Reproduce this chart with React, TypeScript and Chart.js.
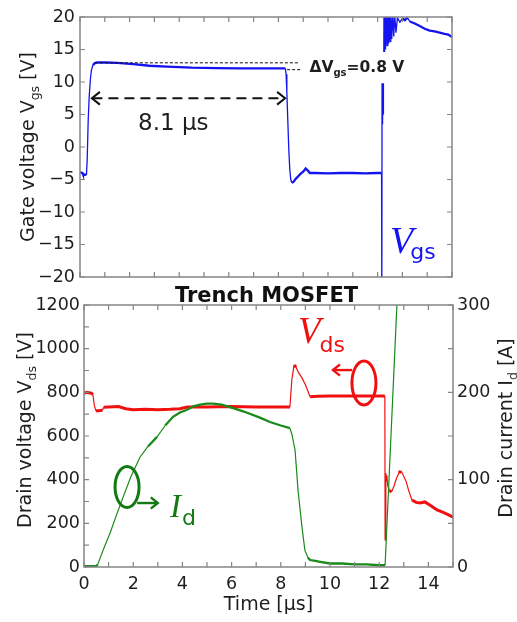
import React, { useEffect, useRef } from 'react';
import { Chart, registerables } from 'chart.js';
Chart.register(...registerables);

// ---------- data ----------
const timeMinorTicks = [0, 1, 2, 3, 4, 5, 6, 7, 8, 9, 10, 11, 12, 13, 14, 15];
const vgsMinorTicks = [-20, -15, -10, -5, 0, 5, 10, 15, 20];
const vdsMinorTicks = [0, 100, 200, 300, 400, 500, 600, 700, 800, 900, 1000, 1100, 1200];
const idMinorTicks = [0, 50, 100, 150, 200, 250, 300];

const vgsTime = [0, 0.1, 0.12, 0.26, 0.29, 0.33, 0.37, 0.42, 0.46, 0.52, 0.6, 0.7, 1.0, 1.5, 2.15, 2.8, 3.5, 4.5, 5.5, 6.5, 7.5, 8.28,
  8.31, 8.34, 8.38, 8.42, 8.46, 8.5, 8.54, 8.6, 8.7, 8.8, 8.9, 9.0, 9.1, 9.18, 9.27, 9.5, 10, 10.5, 11, 11.5, 12, 12.16,
  12.17, 12.18, 12.19, 12.2, 12.21, 12.22, 12.23, 12.24, 12.245, 12.25, 12.26, 12.27, 12.28, 12.29, 12.3, 12.31, 12.32, 12.33,
  12.35, 12.38, 12.41, 12.44, 12.47, 12.5, 12.53, 12.57, 12.61, 12.65, 12.69, 12.74, 12.8, 12.9, 13.0, 13.1, 13.2, 13.3,
  13.5, 13.7, 13.9, 14.1, 14.3, 14.5, 14.7, 14.85, 15];
const vgsValues = [-3.9, -4.0, -4.2, -4.3, -2, 4, 7.7, 10.5, 11.8, 12.6, 12.9, 13.0, 13.0, 12.95, 12.75, 12.5, 12.35, 12.2, 12.15, 12.1, 12.1, 12.1,
  11.2, 8.5, 4, -0.5, -3.5, -5.0, -5.5, -5.4, -4.9, -4.5, -4.1, -3.8, -3.3, -3.6, -4.0, -4.0, -4.05, -4.0, -4.0, -4.05, -4.0, -4.0,
  -24, 9.8, 3.5, 9.8, 4, 9.8, 5, 9.8, null, 14.6, 24, 14.6, 24, 14.8, 24, 15, 24, 15.2,
  23, 15.6, 22, 15.9, 21.5, 16.2, 21, 16.6, 20.6, 17, 20.3, 17.6, 19.9, 19.2, 19.8, 19.5, 19.9, 19.3,
  19.0, 18.6, 18.2, 17.9, 17.8, 17.6, 17.4, 17.3, 16.9];

const vdsTime = [0, 0.1, 0.2, 0.3, 0.36, 0.42, 0.48, 0.6, 0.75, 0.8, 1.0, 1.4, 1.7, 2.0, 2.5, 3.0, 3.5, 3.9, 4.2, 5.0, 6.0, 7.0, 8.0, 8.37,
  8.45, 8.54, 8.62, 8.72, 8.86, 9.0, 9.19, 9.5, 10, 10.5, 11, 11.5, 12, 12.23, 12.24, 12.27, 12.29, 12.31, 12.35, 12.42, 12.5,
  12.6, 12.7, 12.8, 12.88, 12.96, 13.1, 13.2, 13.33, 13.5, 13.66, 13.86, 14.1, 14.35, 14.6, 14.8, 15];
const vdsValues = [795, 800, 798, 796, 790, 740, 716, 716, 718, 732, 733, 735, 725, 720, 722, 720, 722, 725, 733, 733, 735, 733, 733, 733,
  860, 925, 915, 890, 866, 835, 780, 782, 783, 783, 783, 783, 783, 783, 124, 430, 395, 420, 370, 350, 344,
  370, 405, 430, 440, 425, 390, 350, 307, 296, 293, 298, 280, 261, 250, 240, 228];

const idTime = [0, 0.3, 0.5, 0.56, 0.8, 1.06, 1.3, 1.59, 1.9, 2.28, 2.6, 2.97, 3.3, 3.62, 3.9, 4.19, 4.45, 4.72, 5.0, 5.24, 5.6, 6.06,
  6.5, 7.15, 7.56, 8.0, 8.37, 8.45, 8.58, 8.7, 8.86, 8.98, 9.1, 9.19, 9.4, 9.6, 10, 10.5, 11, 11.5, 12, 12.24, 12.72, 12.9];
const idValues = [1, 1, 1, 3, 21, 39, 58, 80, 103, 126, 138, 149, 162, 172, 177, 180, 184, 186, 187, 187, 186, 182,
  178, 171, 166, 162, 159, 152, 134, 88, 46, 19, 11, 8, 7, 6, 4, 4, 3, 3, 2, 2, 300, 340];

// ---------- styles ----------
const SANS = '"DejaVu Sans", Verdana, sans-serif';
const SERIF = '"Liberation Serif", "DejaVu Serif", serif';
const FRAME = '#858585';
const TEXT = '#1e1e1e';
const BLUE = '#1414f0';
const RED = '#f01010';
const GREEN = '#1a8a1a';
const GREEN_DARK = '#127a12';
const W = 517;
const H = 622;

type Run = { text: string; font: string; color: string; dy?: number; gap?: number };

function drawRuns(ctx: CanvasRenderingContext2D, runs: Run[], x: number, y: number, align: 'left' | 'center', angle = 0) {
  ctx.save();
  ctx.translate(x, y);
  ctx.rotate(angle);
  ctx.textBaseline = 'alphabetic';
  ctx.textAlign = 'left';
  let total = 0;
  for (const r of runs) {
    ctx.font = r.font;
    total += ctx.measureText(r.text).width + (r.gap || 0);
  }
  let cx = align === 'center' ? -total / 2 : 0;
  for (const r of runs) {
    ctx.font = r.font;
    ctx.fillStyle = r.color;
    ctx.fillText(r.text, cx, r.dy || 0);
    cx += ctx.measureText(r.text).width + (r.gap || 0);
  }
  ctx.restore();
}

function chevron(ctx: CanvasRenderingContext2D, x: number, y: number, dir: number, size: number) {
  ctx.beginPath();
  ctx.moveTo(x - dir * size, y - size * 0.8);
  ctx.lineTo(x, y);
  ctx.lineTo(x - dir * size, y + size * 0.8);
  ctx.stroke();
}

function pts(xs: number[], ys: (number | null)[]) {
  return xs.map((x, i) => ({ x, y: ys[i] }));
}

function slopeWidth(thin: number, thick: number) {
  return (c: any) => {
    const dx = Math.abs(c.p1.x - c.p0.x);
    const dy = Math.abs(c.p1.y - c.p0.y);
    return dy > dx * 1.0 + 1 ? thin : thick;
  };
}

const frameTicks = {
  id: 'frameTicks',
  afterDatasetsDraw(chart: any, _a: any, opts: any) {
    const { ctx, chartArea: a, scales } = chart;
    ctx.save();
    ctx.strokeStyle = FRAME;
    ctx.lineWidth = 1.5;
    ctx.strokeRect(a.left, a.top, a.right - a.left, a.bottom - a.top);
    ctx.lineWidth = 1.2;
    const L = 5;
    ctx.beginPath();
    for (const v of opts.xTicks) {
      const p = scales.x.getPixelForValue(v);
      ctx.moveTo(p, a.bottom); ctx.lineTo(p, a.bottom - L);
      ctx.moveTo(p, a.top); ctx.lineTo(p, a.top + L);
    }
    for (const v of opts.leftTicks) {
      const p = scales.y.getPixelForValue(v);
      ctx.moveTo(a.left, p); ctx.lineTo(a.left + L, p);
    }
    const rs = scales[opts.rightScale];
    for (const v of opts.rightTicks) {
      const p = rs.getPixelForValue(v);
      ctx.moveTo(a.right, p); ctx.lineTo(a.right - L, p);
    }
    ctx.stroke();
    ctx.restore();
  },
};

const minusFmt = (v: any) => String(v).replace('-', '\u2212');
const plainFmt = (v: any) => String(v);

const topText = {
  id: 'topText',
  afterDraw(chart: any) {
    const { ctx, scales } = chart;
    const X = (t: number) => scales.x.getPixelForValue(t);
    const Y = (v: number) => scales.y.getPixelForValue(v);
    drawRuns(ctx, [
      { text: 'Gate voltage V', font: `19px ${SANS}`, color: TEXT },
      { text: 'gs', font: `12.5px ${SANS}`, color: TEXT, dy: 5 },
      { text: ' [V]', font: `19px ${SANS}`, color: TEXT },
    ], 34, Y(0), 'center', -Math.PI / 2);

    ctx.save();
    ctx.strokeStyle = '#111';
    ctx.lineWidth = 2.2;
    ctx.setLineDash([10, 6]);
    ctx.beginPath();
    ctx.moveTo(X(0.5), Y(7.5));
    ctx.lineTo(X(8.25), Y(7.5));
    ctx.stroke();
    ctx.setLineDash([]);
    ctx.lineWidth = 2;
    chevron(ctx, X(0.48), Y(7.5), -1, 8);
    chevron(ctx, X(8.27), Y(7.5), 1, 8);
    ctx.lineWidth = 1;
    ctx.setLineDash([3, 2]);
    ctx.beginPath();
    ctx.moveTo(X(0.6), Y(12.95));
    ctx.lineTo(X(8.8), Y(12.95));
    ctx.moveTo(X(8.35), Y(11.9));
    ctx.lineTo(X(8.9), Y(11.9));
    ctx.stroke();
    ctx.restore();

    drawRuns(ctx, [{ text: '8.1 \u00b5s', font: `23px ${SANS}`, color: TEXT }], X(2.34), Y(2.6), 'left');
    drawRuns(ctx, [
      { text: '\u0394V', font: `bold 15.5px ${SANS}`, color: TEXT },
      { text: 'gs', font: `bold 10px ${SANS}`, color: TEXT, dy: 4 },
      { text: '=0.8 V', font: `bold 15.5px ${SANS}`, color: TEXT },
    ], X(9.25), Y(11.55), 'left');
    drawRuns(ctx, [
      { text: 'V', font: `italic 38px ${SERIF}`, color: BLUE, gap: -3 },
      { text: 'gs', font: `22px ${SANS}`, color: BLUE, dy: 6 },
    ], X(12.5), Y(-16.3), 'left');
  },
};

const bottomText = {
  id: 'bottomText',
  afterDraw(chart: any) {
    const { ctx, scales, chartArea: a } = chart;
    const X = (t: number) => scales.x.getPixelForValue(t);
    const Y = (v: number) => scales.y.getPixelForValue(v);
    drawRuns(ctx, [{ text: 'Trench MOSFET', font: `bold 21px ${SANS}`, color: '#111' }], (a.left + a.right) / 2 - 2, 302, 'center');
    drawRuns(ctx, [
      { text: 'Drain voltage V', font: `19px ${SANS}`, color: TEXT },
      { text: 'ds', font: `12.5px ${SANS}`, color: TEXT, dy: 5 },
      { text: ' [V]', font: `19px ${SANS}`, color: TEXT },
    ], 31, (a.top + a.bottom) / 2 - 6, 'center', -Math.PI / 2);
    drawRuns(ctx, [
      { text: 'Drain current I', font: `19px ${SANS}`, color: TEXT },
      { text: 'd', font: `12.5px ${SANS}`, color: TEXT, dy: 5 },
      { text: ' [A]', font: `19px ${SANS}`, color: TEXT },
    ], 512, (a.top + a.bottom) / 2 - 8, 'center', -Math.PI / 2);

    drawRuns(ctx, [
      { text: 'V', font: `italic 37px ${SERIF}`, color: RED, gap: -1 },
      { text: 'ds', font: `22px ${SANS}`, color: RED, dy: 9 },
    ], X(8.7), Y(1026), 'left');
    drawRuns(ctx, [
      { text: 'I', font: `italic 33px ${SERIF}`, color: GREEN_DARK, gap: 1 },
      { text: 'd', font: `22px ${SANS}`, color: GREEN_DARK, dy: 8 },
    ], X(3.5), Y(229), 'left');

    ctx.save();
    ctx.strokeStyle = RED;
    ctx.lineWidth = 3;
    ctx.beginPath();
    ctx.ellipse(X(11.38), Y(843), 12, 22, 0, 0, Math.PI * 2);
    ctx.stroke();
    ctx.lineWidth = 2.4;
    ctx.beginPath();
    ctx.moveTo(X(10.9), Y(902));
    ctx.lineTo(X(10.12), Y(902));
    ctx.stroke();
    chevron(ctx, X(10.12), Y(902), -1, 7);
    ctx.strokeStyle = GREEN_DARK;
    ctx.lineWidth = 3;
    ctx.beginPath();
    ctx.ellipse(X(1.75), Y(366), 12, 20.5, 0, 0, Math.PI * 2);
    ctx.stroke();
    ctx.lineWidth = 2.4;
    ctx.beginPath();
    ctx.moveTo(X(2.16), Y(293));
    ctx.lineTo(X(3.0), Y(293));
    ctx.stroke();
    chevron(ctx, X(3.0), Y(293), 1, 7);
    ctx.restore();
  },
};

const tickFont = { family: SANS, size: 17.5 };

export default function App() {
  const topRef = useRef<HTMLCanvasElement>(null);
  const botRef = useRef<HTMLCanvasElement>(null);

  useEffect(() => {
    const top = new Chart(topRef.current as HTMLCanvasElement, {
      type: 'line',
      data: {
        datasets: [{
          data: pts(vgsTime, vgsValues) as any,
          borderColor: BLUE,
          borderWidth: 1.4,
          pointRadius: 0,
          spanGaps: false,
          clip: 0 as any,
          segment: { borderWidth: slopeWidth(1.3, 2.3) } as any,
        }],
      },
      options: {
        animation: false,
        responsive: false,
        events: [],
        layout: { padding: { left: 0, right: W - 452, top: 17, bottom: 0 } },
        plugins: { legend: { display: false }, tooltip: { enabled: false }, frameTicks: { xTicks: timeMinorTicks, leftTicks: vgsMinorTicks, rightTicks: vgsMinorTicks, rightScale: 'y' } } as any,
        scales: {
          x: {
            type: 'linear', min: 0, max: 15,
            grid: { display: false, drawTicks: false }, border: { display: false },
            ticks: { display: false },
            afterFit: (s: any) => { s.height = H - 277; },
          },
          y: {
            min: -20, max: 20,
            grid: { display: false, drawTicks: false }, border: { display: false },
            ticks: { stepSize: 5, font: tickFont, color: TEXT, padding: 5, callback: minusFmt, includeBounds: false },
            afterFit: (s: any) => { s.width = 80; },
          },
        },
      },
      plugins: [frameTicks, topText],
    });

    const bot = new Chart(botRef.current as HTMLCanvasElement, {
      type: 'line',
      data: {
        datasets: [
          {
            data: pts(idTime, idValues) as any,
            yAxisID: 'y1',
            borderColor: GREEN,
            borderWidth: 1.3,
            pointRadius: 0,
            clip: 0 as any,
            segment: { borderWidth: slopeWidth(1.2, 2.3) } as any,
          },
          {
            data: pts(vdsTime, vdsValues) as any,
            yAxisID: 'y',
            borderColor: RED,
            borderWidth: 1.4,
            pointRadius: 0,
            clip: 0 as any,
            segment: { borderWidth: slopeWidth(1.2, 3) } as any,
          },
        ],
      },
      options: {
        animation: false,
        responsive: false,
        events: [],
        layout: { padding: { left: 0, right: 0, top: 305, bottom: 0 } },
        plugins: { legend: { display: false }, tooltip: { enabled: false }, frameTicks: { xTicks: timeMinorTicks, leftTicks: vdsMinorTicks, rightTicks: idMinorTicks, rightScale: 'y1' } } as any,
        scales: {
          x: {
            type: 'linear', min: 0, max: 15,
            grid: { display: false, drawTicks: false }, border: { display: false },
            ticks: { stepSize: 2, font: tickFont, color: TEXT, padding: 7, includeBounds: false, autoSkip: false, maxRotation: 0, callback: plainFmt },
            title: { display: true, text: 'Time [\u00b5s]', font: { family: SANS, size: 19 }, color: TEXT, padding: { top: 0, bottom: 6 } },
            afterFit: (s: any) => { s.height = H - 567; },
          },
          y: {
            position: 'left', min: 0, max: 1200,
            grid: { display: false, drawTicks: false }, border: { display: false },
            ticks: { stepSize: 200, font: tickFont, color: TEXT, padding: 4, includeBounds: false, callback: plainFmt },
            afterFit: (s: any) => { s.width = 84; },
          },
          y1: {
            position: 'right', min: 0, max: 300,
            grid: { display: false, drawTicks: false }, border: { display: false },
            ticks: { stepSize: 100, font: tickFont, color: TEXT, padding: 4, includeBounds: false, callback: plainFmt },
            afterFit: (s: any) => { s.width = W - 453; },
          },
        },
      },
      plugins: [frameTicks, bottomText],
    });

    return () => { top.destroy(); bot.destroy(); };
  }, []);

  const cs: React.CSSProperties = { position: 'absolute', left: 0, top: 0, width: W, height: H };
  return (
    <div style={{ position: 'absolute', left: 0, top: 0, width: W, height: H, background: '#fff' }}>
      <canvas ref={topRef} width={W} height={H} style={cs} />
      <canvas ref={botRef} width={W} height={H} style={cs} />
    </div>
  );
}
